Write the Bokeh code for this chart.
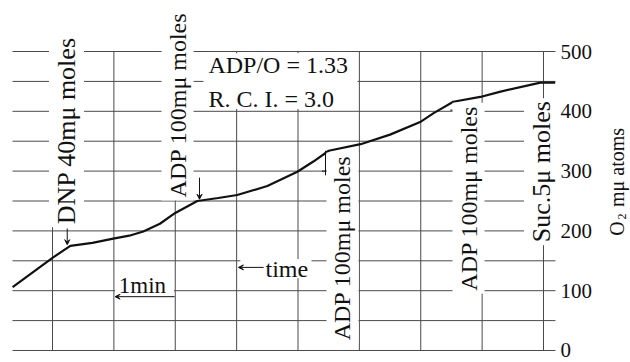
import math
from bokeh.plotting import figure
from bokeh.models import Range1d, Label, BoxAnnotation, Arrow, VeeHead
from bokeh.core.properties import value
from bokeh.embed import file_html
from bokeh.resources import INLINE

# ---- data ----
time_min = [0.35, 1.0, 1.29, 1.65, 1.99, 2.25, 2.48, 2.75, 3.0, 3.36, 3.7, 4.01,
            4.5, 4.99, 5.25, 5.5, 6.02, 6.5, 6.99, 7.21, 7.53, 7.97, 8.3,
            8.95, 9.19]
o2_uptake = [106, 155, 175, 180, 187, 192, 199, 212, 230, 250, 255, 260,
             275, 299, 316, 334, 345, 361, 382, 397, 416, 424, 433,
             448, 448]
minute_grid = [1, 2, 3, 4, 5, 6, 7, 8, 9]
o2_grid = [0, 50, 100, 150, 200, 250, 300, 350, 400, 450, 500]
o2_ticks = [0, 100, 200, 300, 400, 500]
o2_tick_labels = ["0", "100", "200", "300", "400", "500"]
axis_title_parts = ["O", "2", "m\u03bc atoms"]   # O2 (subscript 2) m-mu atoms
additions = ["DNP 40m\u03bc moles", "ADP 100m\u03bc moles", "ADP 100m\u03bc moles",
             "ADP 100m\u03bc moles", "Suc.5\u03bc moles"]
ratio_texts = ["ADP/O = 1.33", "R. C. I. = 3.0"]

SERIF = "Liberation Serif"
GRID = "#4a4a4a"
INK = "#111111"

# time extent of the recording grid
t_left, t_right = 0.348, 9.195

p = figure(width=630, height=362, output_backend="svg", toolbar_location=None,
           x_range=Range1d(0.1527, 10.4175), y_range=Range1d(-20.07, 585.3),
           x_axis_location=None, y_axis_location=None,
           min_border_left=0, min_border_right=0, min_border_top=0,
           min_border_bottom=0)
p.outline_line_color = None
p.background_fill_color = "white"
p.border_fill_color = "white"
p.xgrid.visible = False
p.ygrid.visible = False

# recording-paper grid
p.segment(x0=minute_grid, y0=0, x1=minute_grid, y1=500,
          line_color=GRID, line_width=1)
p.segment(x0=t_left, y0=o2_grid, x1=t_right, y1=o2_grid,
          line_color=GRID, line_width=1)

# right-hand scale labels
p.text(x=9.277, y=o2_ticks, text=o2_tick_labels, text_align="left",
       text_baseline="middle", text_font=value(SERIF),
       text_font_size="21px", text_color=INK)

# scale title, rotated, with subscript 2
title_pos = [(10.2, 192, "20px"), (10.28, 219, "12px"), (10.2, 240, "20px")]
for (x, y, fs), txt in zip(title_pos, axis_title_parts):
    p.add_layout(Label(x=x, y=y, text=txt, angle=math.pi / 2,
                       text_align="left", text_baseline="middle",
                       text_font=SERIF, text_font_size=fs, text_color=INK))

# curve
p.line(time_min, o2_uptake, line_color=INK, line_width=2.2)

# white boxes hiding grid behind the inset texts
p.add_layout(BoxAnnotation(left=3.46, right=5.97, bottom=404, top=497,
                           fill_color="white", fill_alpha=1, line_color=None))
p.add_layout(BoxAnnotation(left=2.02, right=2.98, bottom=86, top=126,
                           fill_color="white", fill_alpha=1, line_color=None))
p.add_layout(BoxAnnotation(left=4.06, right=5.22, bottom=121, top=153,
                           fill_color="white", fill_alpha=1, line_color=None))

# rotated addition labels
rot_pos = [(1.228, 206), (3.037, 251), (5.725, 12), (7.778, 95), (8.967, 176)]
rot_size = ["26px", "24px", "24px", "24px", "26px"]
for (x, y), txt, fs in zip(rot_pos, additions, rot_size):
    p.add_layout(Label(x=x, y=y, text=txt, angle=math.pi / 2,
                       text_align="left", text_baseline="middle",
                       text_font=SERIF, text_font_size=fs,
                       text_color=INK, background_fill_color="white",
                       padding=3))

# leaders
p.add_layout(Arrow(x_start=1.24, y_start=204, x_end=1.24, y_end=177,
                   line_width=1, line_color=INK,
                   end=VeeHead(size=5, line_color=INK, line_width=1)))
p.add_layout(Arrow(x_start=3.395, y_start=289, x_end=3.395, y_end=253,
                   line_width=1, line_color=INK,
                   end=VeeHead(size=5, line_color=INK, line_width=1)))
p.segment(x0=[5.448, 5.39, 7.534, 7.48], y0=[334, 300, 415, 402],
          x1=[5.448, 5.51, 7.534, 7.59], y1=[293, 300, 382, 402],
          line_color=INK, line_width=1)

# ratio texts
p.add_layout(Label(x=3.54, y=477, text=ratio_texts[0], text_align="left",
                   text_baseline="middle", text_font=SERIF,
                   text_font_size="24px", text_color=INK))
p.add_layout(Label(x=3.54, y=421, text=ratio_texts[1], text_align="left",
                   text_baseline="middle", text_font=SERIF,
                   text_font_size="24px", text_color=INK))

# 1 min scale
p.add_layout(Label(x=2.466, y=109, text="1min", text_align="center",
                   text_baseline="middle", text_font=SERIF,
                   text_font_size="23px", text_color=INK))
p.add_layout(Arrow(x_start=2.99, y_start=90, x_end=2.02, y_end=90,
                   line_width=1, line_color=INK,
                   end=VeeHead(size=5, line_color=INK, line_width=1)))

# time arrow
p.add_layout(Label(x=4.47, y=137, text="time", text_align="left",
                   text_baseline="middle", text_font=SERIF,
                   text_font_size="24px", text_color=INK))
p.add_layout(Arrow(x_start=4.44, y_start=139, x_end=4.03, y_end=139,
                   line_width=1, line_color=INK,
                   end=VeeHead(size=5, line_color=INK, line_width=1)))

open("out.html", "w").write(file_html(p, INLINE))
